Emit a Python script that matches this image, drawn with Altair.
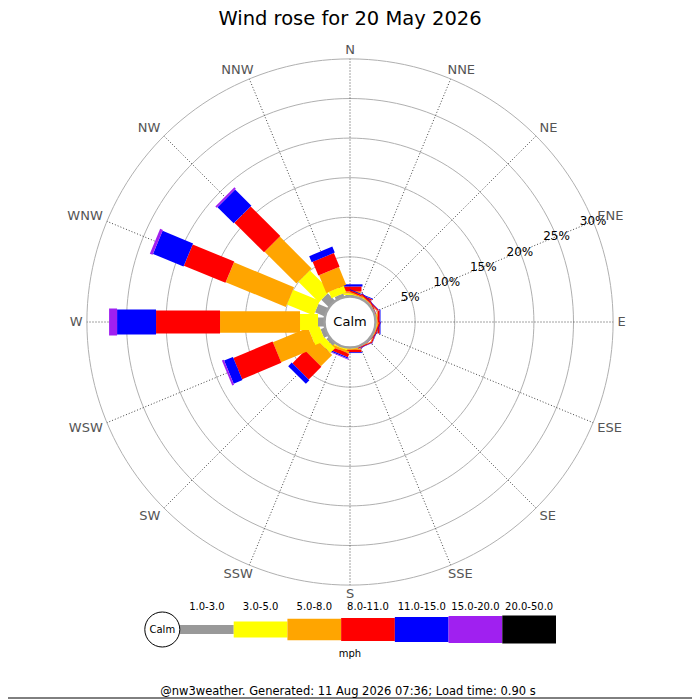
import math
import altair as alt
import pandas as pd

# ---------------- data ----------------
DIRECTIONS = ["N", "NNE", "NE", "ENE", "E", "ESE", "SE", "SSE",
              "S", "SSW", "SW", "WSW", "W", "WNW", "NW", "NNW"]
SPEED_BINS = ["1.0-3.0", "3.0-5.0", "5.0-8.0", "8.0-11.0",
              "11.0-15.0", "15.0-20.0", "20.0-50.0"]

# percentage of time per direction (order of DIRECTIONS), one list per speed bin
pct_1_3 = [0.19, 0.05, 0.05, 0.02, 0.05, 0.05, 0.02, 0.03,
           0.05, 0.10, 0.44, 0.57, 0.82, 1.33, 1.33, 0.44]
pct_3_5 = [0.19, 0.10, 0.10, 0.05, 0.10, 0.07, 0.03, 0.05,
           0.10, 0.15, 0.88, 1.39, 2.27, 3.66, 3.66, 0.88]
pct_5_8 = [0.25, 0.15, 0.10, 0.05, 0.13, 0.10, 0.04, 0.07,
           0.15, 0.30, 2.02, 4.80, 10.10, 8.21, 5.68, 2.40]
pct_8_11 = [0.63, 0.20, 0.15, 0.10, 0.25, 0.15, 0.07, 0.12,
            0.30, 0.45, 2.27, 5.37, 8.08, 5.68, 5.30, 1.89]
pct_11_15 = [0.28, 0.10, 0.05, 0.03, 0.10, 0.05, 0.03, 0.05,
             0.10, 0.16, 0.63, 1.20, 4.92, 4.17, 2.90, 0.82]
pct_15_20 = [0, 0, 0, 0, 0, 0, 0, 0,
             0, 0.10, 0, 0.25, 1.01, 0.38, 0.25, 0]
pct_20_50 = [0, 0, 0, 0, 0, 0, 0, 0,
             0, 0, 0, 0, 0, 0, 0, 0]
SERIES = [pct_1_3, pct_3_5, pct_5_8, pct_8_11, pct_11_15, pct_15_20, pct_20_50]

RING_PCTS = [5, 10, 15, 20, 25, 30]
TITLE = "Wind rose for 20 May 2026"
CALM_LABEL = "Calm"
UNIT_LABEL = "mph"
FOOTER = "@nw3weather. Generated: 11 Aug 2026 07:36; Load time: 0.90 s"

# ---------------- styles / layout ----------------
BIN_COLORS = ["#999999", "#ffff00", "#ffa500", "#ff0000", "#0000ff", "#a020f0", "#000000"]
BIN_WIDTHS = [9, 16, 21.5, 23, 25, 27, 28]
FONT = "DejaVu Sans"

W, H = 684, 692
PX = 7.92                 # pixels per percent
CX, CY = 342, 314         # rose centre inside the plot area
CALM_R = 25.5 / PX        # calm circle radius, in percent units
LABEL_R_PX = 266.0
GLYPH = {"N": 0.748, "E": 0.632, "S": 0.635, "W": 0.989}
DIR_FONT = 13

xs = alt.Scale(domain=[-CX / PX, (W - CX) / PX], nice=False, zero=False)
ys = alt.Scale(domain=[-(H - CY) / PX, CY / PX], nice=False, zero=False)
color_scale = alt.Scale(type="ordinal", domain=SPEED_BINS, range=BIN_COLORS)
width_scale = alt.Scale(type="ordinal", domain=SPEED_BINS, range=BIN_WIDTHS)

# ---------------- tables ----------------
rows = []
for di, d in enumerate(DIRECTIONS):
    for bi, b in enumerate(SPEED_BINS):
        rows.append({"dir": d, "di": di, "bin": b, "bi": bi, "pct": SERIES[bi][di]})
bars_df = pd.DataFrame(rows)


def sgn(v):
    return 0.0 if abs(v) < 1e-9 else math.copysign(1.0, v)


dir_rows = []
for di, d in enumerate(DIRECTIONS):
    a = di * math.pi / 8
    s, c = math.sin(a), math.cos(a)
    hw = sum(GLYPH[ch] for ch in d) * DIR_FONT / 2
    hh = 0.73 * DIR_FONT / 2
    px_x = LABEL_R_PX * s + sgn(s) * (hw * min(1.0, 1.5 * abs(s)) + 1.5)
    px_y = LABEL_R_PX * c + sgn(c) * (hh * min(1.0, 1.5 * abs(c)) + 1.5)
    dir_rows.append({"dir": d, "di": di, "lx": px_x / PX, "ly": px_y / PX})
dirs_df = pd.DataFrame(dir_rows)


def X(f):
    return alt.X(f, scale=xs, axis=None)


def Y(f):
    return alt.Y(f, scale=ys, axis=None)


# rings
rings = alt.Chart(pd.DataFrame({"ring": RING_PCTS})).transform_calculate(
    deg="sequence(0, 362, 2)"
).transform_flatten(["deg"]).transform_calculate(
    r=f"{CALM_R} + datum.ring"
).transform_calculate(
    x="datum.r * sin(datum.deg * PI / 180)",
    y="datum.r * cos(datum.deg * PI / 180)",
).mark_line(color="#b0b0b0", strokeWidth=1).encode(
    x=X("x:Q"), y=Y("y:Q"), detail="ring:N", order="deg:Q"
)

# spokes
spokes = alt.Chart(dirs_df).transform_calculate(
    a="datum.di * PI / 8",
).transform_calculate(
    x0=f"{CALM_R} * sin(datum.a)", y0=f"{CALM_R} * cos(datum.a)",
    x1=f"{CALM_R + max(RING_PCTS)} * sin(datum.a)",
    y1=f"{CALM_R + max(RING_PCTS)} * cos(datum.a)",
).mark_rule(color="#444444", strokeWidth=1, strokeDash=[1, 2]).encode(
    x=X("x0:Q"), y=Y("y0:Q"), x2="x1:Q", y2="y1:Q"
)

# bars
bars = alt.Chart(bars_df).transform_window(
    cum="sum(pct)", groupby=["dir"], sort=[alt.SortField("bi")], frame=[None, 0]
).transform_filter("datum.pct > 0").transform_calculate(
    a="datum.di * PI / 8",
    r0=f"{CALM_R} + datum.cum - datum.pct",
    r1=f"{CALM_R} + datum.cum",
).transform_calculate(
    x0="datum.r0 * sin(datum.a)", y0="datum.r0 * cos(datum.a)",
    x1="datum.r1 * sin(datum.a)", y1="datum.r1 * cos(datum.a)",
).mark_rule().encode(
    x=X("x0:Q"), y=Y("y0:Q"), x2="x1:Q", y2="y1:Q",
    color=alt.Color("bin:N", scale=color_scale, legend=None),
    strokeWidth=alt.StrokeWidth("bin:N", scale=width_scale, legend=None),
    order=alt.Order("di:Q"),
)

# calm circle
calm = alt.Chart(pd.DataFrame({"t": [CALM_LABEL]})).mark_point(
    shape="circle", filled=True, fill="white", stroke="#a0a0a0", strokeWidth=2.5,
    size=(2 * 25.5) ** 2, opacity=1
).encode(x=alt.value(CX), y=alt.value(CY))
calm_text = alt.Chart(pd.DataFrame({"t": [CALM_LABEL]})).mark_text(
    font=FONT, fontSize=13, color="black", baseline="middle", align="center"
).encode(x=alt.value(CX), y=alt.value(CY), text="t:N")

# percent labels on the ENE spoke
pct_labels = alt.Chart(pd.DataFrame({"ring": RING_PCTS})).transform_calculate(
    r=f"{CALM_R} + datum.ring", lab="datum.ring + '%'"
).transform_calculate(
    x="datum.r * sin(3 * PI / 8)", y="datum.r * cos(3 * PI / 8)"
).mark_text(font=FONT, fontSize=12, color="black", align="center", baseline="middle").encode(
    x=X("x:Q"), y=Y("y:Q"), text="lab:N"
)

# direction labels
dir_labels = alt.Chart(dirs_df).mark_text(
    font=FONT, fontSize=DIR_FONT, color="#555555", align="center", baseline="middle"
).encode(x=X("lx:Q"), y=Y("ly:Q"), text="dir:N")

title = alt.Chart(pd.DataFrame({"t": [TITLE]})).mark_text(
    font=FONT, fontSize=19.5, color="black", align="center", baseline="alphabetic"
).encode(x=alt.value(CX), y=alt.value(17), text="t:N")

rose = alt.layer(rings, spokes, bars, calm, calm_text, pct_labels, dir_labels, title)

# ---------------- legend ----------------
lx = alt.Scale(domain=[0, len(SPEED_BINS)], range=[172, 548], nice=False, zero=False)
leg_df = pd.DataFrame({"bin": SPEED_BINS, "i": list(range(len(SPEED_BINS)))})
leg_bars = alt.Chart(leg_df).transform_calculate(i2="datum.i + 1").mark_rule().encode(
    x=alt.X("i:Q", scale=lx, axis=None), x2="i2:Q", y=alt.value(621.5),
    color=alt.Color("bin:N", scale=color_scale, legend=None),
    strokeWidth=alt.StrokeWidth("bin:N", scale=width_scale, legend=None),
)
leg_text = alt.Chart(leg_df).transform_calculate(ic="datum.i + 0.5").mark_text(
    font=FONT, fontSize=10, color="black", align="center", baseline="middle"
).encode(x=alt.X("ic:Q", scale=lx, axis=None), y=alt.value(598.5), text="bin:N")
leg_calm = alt.Chart(pd.DataFrame({"t": [CALM_LABEL]})).mark_point(
    shape="circle", filled=True, fill="white", stroke="black", strokeWidth=1,
    size=35 ** 2, opacity=1
).encode(x=alt.value(154.3), y=alt.value(621.5))
leg_calm_text = alt.Chart(pd.DataFrame({"t": [CALM_LABEL]})).mark_text(
    font=FONT, fontSize=10, color="black", align="center", baseline="middle"
).encode(x=alt.value(154.3), y=alt.value(621.5), text="t:N")
unit = alt.Chart(pd.DataFrame({"t": [UNIT_LABEL]})).mark_text(
    font=FONT, fontSize=10, color="black", align="center", baseline="middle"
).encode(x=alt.value(CX), y=alt.value(645.5), text="t:N")
footer = alt.Chart(pd.DataFrame({"t": [FOOTER]})).mark_text(
    font=FONT, fontSize=11.5, color="black", align="center", baseline="middle"
).encode(x=alt.value(CX - 2), y=alt.value(683.5), text="t:N")
bottom_line = alt.Chart(pd.DataFrame({"t": [0]})).mark_rule(color="black", strokeWidth=1).encode(
    x=alt.value(0), x2=alt.value(W), y=alt.value(690)
)

legend = alt.layer(leg_bars, leg_text, leg_calm, leg_calm_text, unit, footer, bottom_line)

chart = alt.layer(rose, legend).resolve_scale(x="independent").properties(
    width=W, height=H, padding=0, autosize=alt.AutoSizeParams(type="none"),
    background="white",
).configure_view(stroke=None)

chart.save("out.html", embed_options={"renderer": "svg", "actions": False})
